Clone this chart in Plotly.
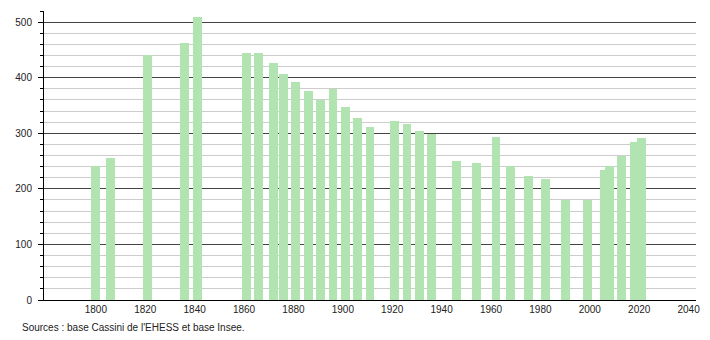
import plotly.graph_objects as go

years = [1800, 1806, 1821, 1836, 1841, 1861, 1866, 1872, 1876, 1881, 1886, 1891, 1896,
         1901, 1906, 1911, 1921, 1926, 1931, 1936, 1946, 1954, 1962, 1968, 1975, 1982,
         1990, 1999, 2006, 2008, 2013, 2018, 2021]
population = [242, 256, 440, 463, 510, 445, 445, 427, 407, 393, 376, 360, 380,
              347, 328, 312, 322, 317, 304, 299, 250, 247, 294, 242, 223, 218,
              180, 180, 234, 242, 260, 284, 292]
x_ticks = [1800, 1820, 1840, 1860, 1880, 1900, 1920, 1940, 1960, 1980, 2000, 2020, 2040]
y_ticks = [0, 100, 200, 300, 400, 500]
source_text = "Sources : base Cassini de l'EHESS et base Insee."

W, H = 710, 340
ml, mr, mt, mb = 44, 10, 11, 40

fig = go.Figure()
fig.add_trace(go.Bar(x=years, y=population, width=3.6,
                     marker=dict(color="#b2e4b2", line=dict(width=0)),
                     hoverinfo="x+y"))

fig.update_layout(
    width=W, height=H,
    margin=dict(l=ml, r=mr, t=mt, b=mb, pad=0),
    paper_bgcolor="white", plot_bgcolor="white",
    showlegend=False,
    font=dict(family="Liberation Sans, Arial, sans-serif", size=10, color="#222"),
    xaxis=dict(range=[1779, 2043], tickvals=x_ticks, ticktext=[str(v) for v in x_ticks],
               showgrid=False, zeroline=False, showline=True, linecolor="black",
               linewidth=1, ticks="", tickfont=dict(size=10)),
    yaxis=dict(range=[0, 520], tickvals=y_ticks, showgrid=True, gridcolor="#444",
               gridwidth=1, zeroline=False, showline=True, linecolor="black",
               linewidth=1, ticks="outside", ticklen=5, tickcolor="black",
               tickfont=dict(size=10), ticklabelstandoff=4,
               minor=dict(dtick=20, tick0=0, showgrid=True, gridcolor="#cccccc",
                          gridwidth=1, ticks="outside", ticklen=3, tickcolor="black")),
    bargap=0,
)

fig.add_annotation(text=source_text, xref="paper", yref="paper",
                   x=(20 - ml) / (W - ml - mr), y=-(327 - (H - mb)) / (H - mt - mb),
                   xanchor="left", yanchor="middle", showarrow=False,
                   font=dict(size=10, color="#222"))

fig.write_html("out.html")
